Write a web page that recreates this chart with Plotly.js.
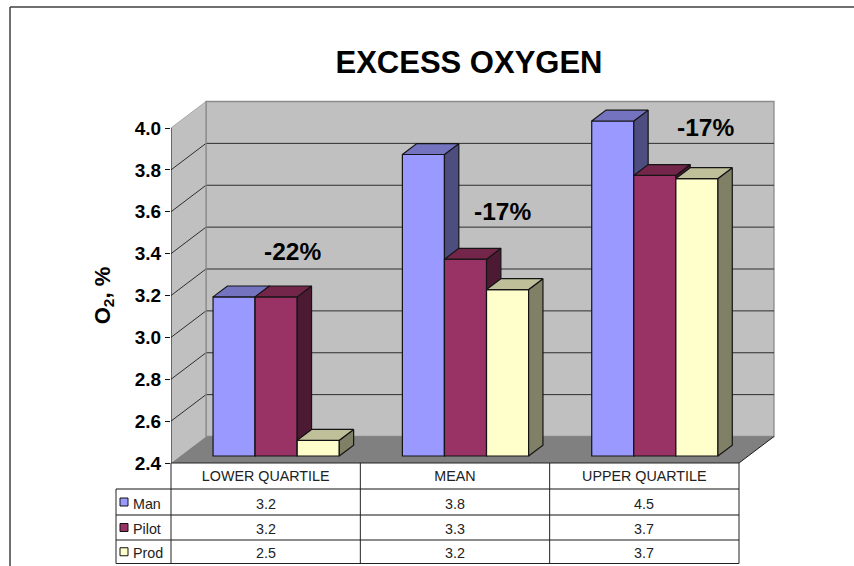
<!DOCTYPE html>
<html>
<head>
<meta charset="utf-8">
<script src="https://cdn.plot.ly/plotly-3.0.1.min.js"></script>
<style>html,body{margin:0;padding:0;background:#fff}#chart{width:854px;height:566px}</style>
</head>
<body>
<div id="chart"></div>
<script>
// Excess oxygen readings by quartile, with the table underneath the columns.
const categories = ['LOWER QUARTILE', 'MEAN', 'UPPER QUARTILE'];
const man = [3.16, 3.84, 4.5];
const pilot = [3.16, 3.34, 3.74];
const prod = [2.475, 3.195, 3.725];
const seriesNames = ['Man', 'Pilot', 'Prod'];
const changeLabels = ['-22%', '-17%', '-17%'];
const yTicks = [2.4, 2.6, 2.8, 3.0, 3.2, 3.4, 3.6, 3.8, 4.0];

const frontColors = ['#9999FF', '#993366', '#FFFFCC'];
const sideColors = ['#4D4D80', '#4D1A33', '#808066'];
const topColors = ['#7373BF', '#732649', '#BFBF99'];
const allSeries = [man, pilot, prod];

const W = 854, H = 566;
const yMin = 2.4, yMax = 4.0;
// Front plane of the box in pixels, plus the oblique depth vector.
const L = 171, R = 739, T = 128, B = 463;
const depthX = 35, depthY = 26.5;
const n = categories.length;
const pxPerCat = (R - L) / n;
const pxPerVal = (B - T) / (yMax - yMin);
// The columns stand on a plane a quarter of the way into the box and occupy 40% of the depth.
const barPlaneX = 10.5, barPlaneY = 7, barDepth = 0.41;
const barWidth = 2 / 9;
const floorPad = 0.1; // extra value range under the columns, keeps their bottom outline visible
const edgePad = 3;    // spare pixels right of and above the drawn box

const fx = p => p / W;
const fy = p => 1 - p / H;
const dx = d => d * depthX / pxPerCat;
const dy = d => d * depthY / pxPerVal;

const traces = [];

function poly(xs, ys, fill, lineColor, lineWidth, ax) {
  traces.push({
    type: 'scatter', mode: 'lines', x: xs, y: ys, fill: 'toself', fillcolor: fill,
    line: {color: lineColor, width: lineWidth}, hoverinfo: 'skip', showlegend: false,
    xaxis: ax ? 'x' + ax : 'x', yaxis: ax ? 'y' + ax : 'y'
  });
}
function edge(xs, ys, color, width) {
  traces.push({
    type: 'scatter', mode: 'lines', x: xs, y: ys, line: {color: color, width: width},
    hoverinfo: 'skip', showlegend: false, xaxis: 'x', yaxis: 'y'
  });
}

// Walls and floor of the box
const none = 'rgba(0,0,0,0)';
const backLow = yMin + dy(1), backHigh = yMax + dy(1), backRight = n + dx(1);
poly([dx(1), backRight, backRight, dx(1), dx(1)], [backLow, backLow, backHigh, backHigh, backLow], '#C0C0C0', '#8C8C8C', 1.3);
poly([0, dx(1), dx(1), 0, 0], [yMin, backLow, backHigh, yMax, yMin], '#C0C0C0', none, 0);

// Gridlines run along the left wall and then across the back wall
const gx = [], gy = [];
yTicks.slice(1, -1).forEach(v => {
  gx.push(0, dx(1), backRight, null);
  gy.push(v, v + dy(1), v + dy(1), null);
});
edge(gx, gy, '#2E2E2E', 1);
edge([0, dx(1)], [yMax, backHigh], '#A8A8A8', 1);
edge([dx(1), dx(1)], [backLow, backHigh], '#8C8C8C', 1.3);

poly([0, n, backRight, dx(1), 0], [yMin, yMin, backLow, backLow, yMin], '#808080', none, 0);
edge([n, backRight], [yMin, backLow], '#1A1A1A', 1);

// The value axis sits on the front plane, in a subplot of its own
traces.push({
  type: 'scatter', mode: 'lines', x: [0, 0], y: [yMin, yMax], line: {color: '#111', width: 1},
  hoverinfo: 'skip', showlegend: false, xaxis: 'x2', yaxis: 'y2'
});

// One subplot per series so that later series paint over the sides of earlier ones.
// Columns stop at the top of the value axis even when the reading is higher.
allSeries.forEach((values, s) => {
  const ax = s + 3;
  const centres = categories.map((c, i) => i + 0.5 + (s - 1) * barWidth);
  traces.push({
    type: 'bar', name: seriesNames[s], x: centres, base: yMin,
    y: values.map(v => Math.min(v, yMax) - yMin),
    width: barWidth, marker: {color: frontColors[s], line: {color: '#151515', width: 1.2}},
    hoverinfo: 'skip', showlegend: false, xaxis: 'x' + ax, yaxis: 'y' + ax
  });
  values.forEach((v, i) => {
    const top = Math.min(v, yMax);
    const x0 = centres[i] - barWidth / 2, x1 = centres[i] + barWidth / 2;
    const ox = dx(barDepth), oy = dy(barDepth);
    poly([x1, x1 + ox, x1 + ox, x1, x1], [yMin, yMin + oy, top + oy, top, yMin], sideColors[s], '#151515', 1.2, ax);
    poly([x0, x1, x1 + ox, x0 + ox, x0], [top, top, top + oy, top + oy, top], topColors[s], '#151515', 1.2, ax);
  });
});

// Axes
const planeLeft = L + barPlaneX, planeBase = B - barPlaneY;
const layout = {
  width: W, height: H,
  margin: {l: 0, r: 0, t: 0, b: 0},
  paper_bgcolor: '#fff', plot_bgcolor: 'rgba(0,0,0,0)',
  font: {family: '"Liberation Sans", Arial, sans-serif', color: '#000'},
  showlegend: false, bargap: 0,
  title: {text: '<b>EXCESS OXYGEN</b>', x: fx(469), xref: 'paper', xanchor: 'center',
          y: fy(62), yref: 'paper', yanchor: 'middle', font: {size: 31, color: '#000'}},
  // Box subplot: front plane plus the depth of the walls
  xaxis: {range: [0, backRight + edgePad / pxPerCat], visible: false, fixedrange: true,
          domain: [fx(L), fx(R + depthX + edgePad)]},
  yaxis: {range: [yMin, backHigh + edgePad / pxPerVal], visible: false, fixedrange: true,
          domain: [fy(B), fy(T - depthY - edgePad)]},
  // Front plane: category labels and the value axis
  xaxis2: {range: [0, n], domain: [fx(L), fx(R)], fixedrange: true, showgrid: false, zeroline: false,
           showline: false, ticks: '', tickmode: 'array',
           tickvals: categories.map((c, i) => i + 0.5), ticktext: categories,
           tickfont: {size: 14.3, color: '#222'}, ticklabelstandoff: 3},
  yaxis2: {range: [yMin, yMax], domain: [fy(B), fy(T)], fixedrange: true, showgrid: false, zeroline: false,
           showline: false, ticks: 'outside', ticklen: 5, tickcolor: '#111',
           tickmode: 'array', tickvals: yTicks, tickformat: '.1f',
           tickfont: {size: 19, color: '#000', weight: 'bold'},
           title: {text: '<b>O<sub>2</sub>, %</b>', font: {size: 22, color: '#000'}, standoff: 18}},
  shapes: [],
  annotations: []
};
// Column subplots share one plane, set back from the front of the box
[3, 4, 5].forEach(a => {
  const ox = dx(barDepth), oy = dy(barDepth);
  layout['xaxis' + a] = {
    range: [0, n + ox + edgePad / pxPerCat], visible: false, fixedrange: true,
    domain: [fx(planeLeft), fx(planeLeft + (n + ox) * pxPerCat + edgePad)]
  };
  layout['yaxis' + a] = {
    range: [yMin - floorPad, yMax + oy + edgePad / pxPerVal], visible: false, fixedrange: true,
    domain: [fy(planeBase + floorPad * pxPerVal), fy(planeBase - (yMax + oy - yMin) * pxPerVal - edgePad)]
  };
});

// Percentage change notes above each group
const changeAnchors = [[292, 251], [502, 211], [705, 127]];
changeLabels.forEach((t, i) => {
  layout.annotations.push({
    text: '<b>' + t + '</b>', xref: 'paper', yref: 'paper', x: fx(changeAnchors[i][0]), y: fy(changeAnchors[i][1]),
    showarrow: false, xanchor: 'center', yanchor: 'middle', font: {size: 24.5, color: '#000'}
  });
});

// Frame around the chart area: only the top and left edges fall inside the page
const line = (x0, y0, x1, y1, color, width) => layout.shapes.push({
  type: 'line', xref: 'paper', yref: 'paper', x0: fx(x0), y0: fy(y0), x1: fx(x1), y1: fy(y1),
  line: {color: color, width: width}
});
line(10, 7, W, 7, '#404040', 1.5);
line(10, 7, 10, H, '#404040', 1.5);

// Data table
const rowEdges = [B, 489, 515, 540, 563.5];
const textNudge = [1.5, 1, 1];
const tableLeft = 116;
const rowColors = ['#111', '#111', '#666', '#222'];
line(L, B, R, B, '#222', 1);
rowEdges.slice(1).forEach((e, i) => line(tableLeft, e, R, e, rowColors[i], i === 2 ? 1.5 : 1));
line(tableLeft, rowEdges[1], tableLeft, rowEdges[4], '#222', 1);
for (let i = 0; i <= n; i++) line(L + i * pxPerCat, B, L + i * pxPerCat, rowEdges[4], '#222', 1);

allSeries.forEach((values, s) => {
  const mid = (rowEdges[s + 1] + rowEdges[s + 2]) / 2;
  const textY = mid + textNudge[s];
  layout.shapes.push({
    type: 'rect', xref: 'paper', yref: 'paper',
    x0: fx(120), x1: fx(128), y0: fy(mid - 4), y1: fy(mid + 4),
    fillcolor: frontColors[s], line: {color: '#111', width: 1}
  });
  layout.annotations.push({
    text: seriesNames[s], xref: 'paper', yref: 'paper', x: fx(131), y: fy(textY), showarrow: false,
    xanchor: 'left', yanchor: 'middle', font: {size: 14.3, color: '#222'}
  });
  values.forEach((v, i) => {
    layout.annotations.push({
      text: v.toFixed(1), xref: 'x2', yref: 'paper', x: i + 0.5, y: fy(textY), showarrow: false,
      xanchor: 'center', yanchor: 'middle', font: {size: 14.3, color: '#222'}
    });
  });
});

Plotly.newPlot('chart', traces, layout, {displayModeBar: false, staticPlot: true});
</script>
</body>
</html>
